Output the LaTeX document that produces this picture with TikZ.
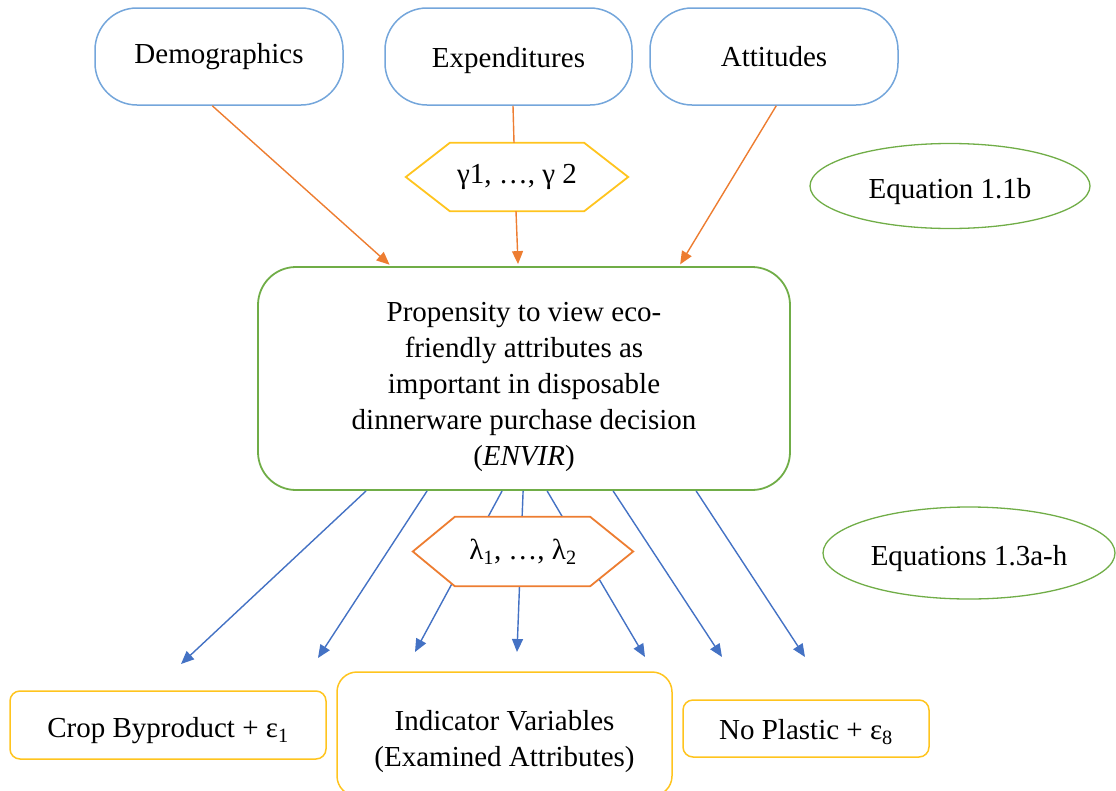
\documentclass[tikz,border=0pt]{standalone}
\usepackage{fontspec}
\setmainfont{Liberation Serif}
\usetikzlibrary{arrows.meta,calc,shapes.geometric}
\definecolor{pillblue}{RGB}{116,166,219}
\definecolor{boxgreen}{RGB}{112,173,71}
\definecolor{arrorange}{RGB}{237,125,49}
\definecolor{hexgold}{RGB}{255,196,30}
\definecolor{arrblue}{RGB}{68,114,196}
\begin{document}
\begin{tikzpicture}[x=1pt,y=-1pt,
  every node/.style={font=\fontsize{29}{36}\selectfont, inner sep=0pt},
  lower/.style={text height=#1, text depth=0pt},
  pill/.style={draw=pillblue, line width=1.5pt, rounded corners=42pt, minimum width=248pt, minimum height=97pt},
  envbox/.style={draw=boxgreen, line width=1.8pt, rounded corners=38pt, minimum width=532pt, minimum height=223pt, align=center},
  eqell/.style={draw=boxgreen, line width=1.3pt, ellipse, minimum width=280pt, minimum height=85pt},
  hexslot/.style={draw=none, minimum width=222pt, minimum height=68pt},
  ybox/.style={draw=hexgold, line width=1.5pt, rounded corners=10pt},
  oline/.style={draw=arrorange, line width=1.4pt},
  oarrow/.style={oline, -{Triangle[length=13pt,width=11pt]}, shorten >=2pt},
  barrow/.style={draw=arrblue, line width=1.4pt, -{Triangle[length=13pt,width=11pt]}}
]
\useasboundingbox (0,0) rectangle (1116,790);

% top boxes
\node[pill] (demo) at (219,56.5) {Demographics};
\node[pill, minimum width=247pt, lower=22pt] (expd) at (508.5,56.5) {Expenditures};
\node[pill] (atti) at (774,56.5) {Attitudes};

% central box
\node[envbox] (envir) at (524,378.5) {\rule{0pt}{36pt}Propensity to view eco-\\friendly attributes as\\important in disposable\\dinnerware purchase decision\\(\textit{ENVIR})};

% equation labels
\node[eqell, lower=24pt] (eqa) at (950,186) {Equation 1.1b};
\node[eqell, minimum width=292pt, minimum height=92pt, lower=25pt] (eqb) at (969,553) {Equations 1.3a-h};

% gamma hexagon
\node[hexslot] (gam) at (517,177) {};
\draw[draw=hexgold, line width=1.8pt, fill=white] (gam.west) -- ([xshift=44pt]gam.north west) -- ([xshift=-44pt]gam.north east) -- (gam.east) -- ([xshift=-44pt]gam.south east) -- ([xshift=44pt]gam.south west) -- cycle;
\node (gamt) at (gam.center) {γ1, …, γ 2};

% orange connectors
\draw[oarrow] ($(demo.south west)+(118,0)$) -- ($(envir.north west)+(134,0)$);
\draw[oline] ($(expd.south)+(4.5,0)$) -- ($(gam.north)+(-3,0)$);
\draw[oarrow] ($(gam.south)+(-1,0)$) -- ($(envir.north west)+(261,0)$);
\draw[oarrow] ($(atti.south west)+(127,0)$) -- ($(envir.north west)+(422,0)$);

% lambda slot and blue arrows
\node[hexslot, minimum width=220pt, minimum height=69pt] (lam) at (523,551.5) {};
\coordinate (e1) at (181,664);
\coordinate (e2) at (318,658);
\coordinate (e3) at (415,652);
\coordinate (e4) at (517,652);
\coordinate (e5) at (645,657);
\coordinate (e6) at (722,657);
\coordinate (e7) at (805,657);
\draw[barrow] ($(envir.south west)+(109,0)$) -- (e1);
\draw[barrow] ($(envir.south west)+(170,0)$) -- (e2);
\draw[barrow] ($(envir.south west)+(245,0)$) -- (e3);
\draw[barrow] ($(envir.south west)+(266,0)$) -- (e4);
\draw[barrow] ($(envir.south west)+(290,0)$) -- (e5);
\draw[barrow] ($(envir.south west)+(356,0)$) -- (e6);
\draw[barrow] ($(envir.south west)+(439,0)$) -- (e7);
\draw[draw=arrorange, line width=1.8pt, fill=white] (lam.west) -- ([xshift=42pt]lam.north west) -- ([xshift=-43pt]lam.north east) -- (lam.east) -- ([xshift=-43pt]lam.south east) -- ([xshift=42pt]lam.south west) -- cycle;
\node (lamt) at (lam.center) {λ\textsubscript{1}, …, λ\textsubscript{2}};

% bottom boxes
\node[ybox, minimum width=316pt, minimum height=68pt, lower=25pt] (crop) at (168,725) {Crop Byproduct + ε\textsubscript{1}};
\node[ybox, rounded corners=20pt, minimum width=335pt, minimum height=124pt, align=center] (indi) at (504.5,734) {\rule{0pt}{36pt}Indicator Variables\\(Examined Attributes)};
\node[ybox, minimum width=246pt, minimum height=57pt, lower=22pt] (nopl) at (806,728.5) {No Plastic + ε\textsubscript{8}};
\end{tikzpicture}
\end{document}
